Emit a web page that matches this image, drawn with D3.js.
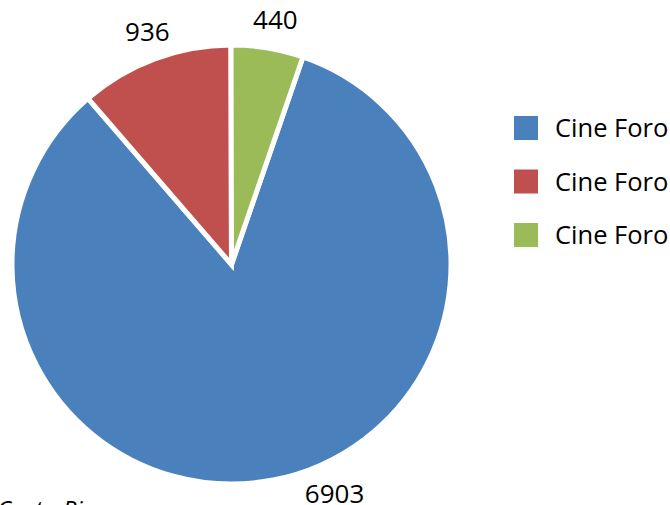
<!DOCTYPE html>
<html>
<head>
<meta charset="utf-8">
<style>
* { margin: 0; padding: 0; }
html, body { width: 670px; height: 505px; overflow: hidden; background: #fff; }
svg { display: block; }
text { font-family: "Open Sans", Lato, sans-serif; fill: #000; }
</style>
</head>
<body>
<script src="https://cdn.jsdelivr.net/npm/d3@7/dist/d3.min.js"></script>
<script>
// datos
var categories = ["Cine Foro", "Cine Foro", "Cine Foro"];
var values = [6903, 936, 440];
var colors = ["#4A81BD", "#C0504D", "#9BBB59"];
var footer = "Costa Rica";

var width = 670, height = 505;
var cx = 231.5, cy = 264.5, radius = 219.5;
var firstAngle = 19; // grados, giro de la primera porcion

var svg = d3.select("body").append("svg")
    .attr("width", width)
    .attr("height", height);

var pie = d3.pie()
    .sort(null)
    .startAngle(firstAngle * Math.PI / 180)
    .endAngle((firstAngle + 360) * Math.PI / 180);

var arcs = pie(values);

var arc = d3.arc().innerRadius(0).outerRadius(radius);

var g = svg.append("g").attr("transform", `translate(${cx},${cy})`);

g.selectAll("path")
    .data(arcs)
    .join("path")
    .attr("d", arc)
    .attr("fill", (d, i) => colors[i])
    .attr("stroke", "#fff")
    .attr("stroke-width", 5)
    .attr("stroke-linejoin", "miter");

// etiquetas fuera del borde, se mueven sobre el circulo si no caben
var labelR = 249;
var maxDy = 228;
g.selectAll("text.lbl")
    .data(arcs)
    .join("text")
    .attr("class", "lbl")
    .attr("text-anchor", "middle")
    .attr("font-size", 26)
    .attr("transform", d => {
        var a = (d.startAngle + d.endAngle) / 2;
        var x = labelR * Math.sin(a), y = -labelR * Math.cos(a);
        if (y > maxDy) {
            a = Math.PI - Math.acos(maxDy / labelR);
            x = labelR * Math.sin(a); y = -labelR * Math.cos(a);
        }
        return `translate(${x + 3},${y + 10})`;
    })
    .text(d => d.data);

// leyenda
var legend = svg.append("g").attr("transform", "translate(514,116)");
var item = legend.selectAll("g")
    .data(categories)
    .join("g")
    .attr("transform", (d, i) => `translate(0,${i * 53.5})`);
item.append("rect")
    .attr("width", 24).attr("height", 24)
    .attr("fill", (d, i) => colors[i]);
item.append("text")
    .attr("x", 41).attr("y", 21)
    .attr("font-size", 25.5)
    .text(d => d);

svg.append("text")
    .attr("x", -3).attr("y", 518)
    .attr("font-size", 24)
    .attr("font-style", "italic")
    .text(footer);
</script>
</body>
</html>
